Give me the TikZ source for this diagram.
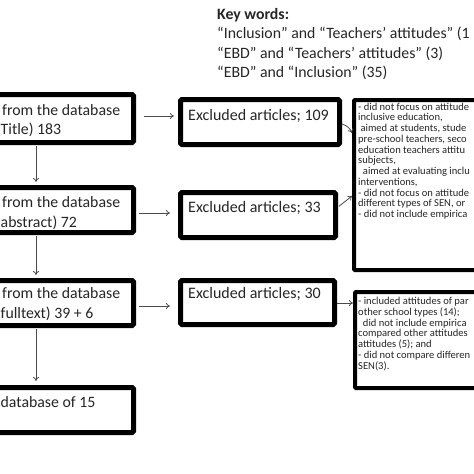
\documentclass[tikz,border=0pt]{standalone}
\usepackage{fontspec}
\setmainfont{Carlito}
\usetikzlibrary{arrows.meta}
\begin{document}
\begin{tikzpicture}[x=1pt,y=-1pt,
  bigbox/.style={draw=black, line width=5pt, rounded corners=1.5pt, fill=white, inner sep=0pt},
  notebox/.style={draw=black, line width=4pt, rounded corners=1pt, fill=white, inner sep=0pt},
  arr/.style={draw=black!70, line width=0.8pt, -{To[length=4pt,width=6pt]}},
  bigtxt/.style={inner sep=0pt, font=\fontsize{15.8}{18}\selectfont, text=black!85},
  midtxt/.style={inner sep=0pt, font=\fontsize{16}{18}\selectfont, text=black!85},
  smalltxt/.style={inner sep=0pt, align=left, font=\fontsize{10.55}{10.75}\selectfont, text=black!85},
  keytxt/.style={inner sep=0pt, anchor=base west, font=\fontsize{15.8}{18}\selectfont, text=black!85}]
\useasboundingbox (0,0) rectangle (474,474);
\fill[white] (0,0) rectangle (474,474);
% left column boxes
\node[bigbox, anchor=north east, minimum width=160pt, minimum height=48pt] (b1) at (136,92) {};
\node[bigbox, anchor=north east, minimum width=160pt, minimum height=45pt] (b2) at (136,185) {};
\node[bigbox, anchor=north east, minimum width=160pt, minimum height=45pt] (b3) at (136,278) {};
\node[bigbox, anchor=north east, minimum width=160pt, minimum height=45pt] (b4) at (136,385) {};
% middle boxes
\node[bigbox, anchor=north west, minimum width=159pt, minimum height=45pt] (e1) at (178,97) {};
\node[bigbox, anchor=north west, minimum width=155pt, minimum height=45pt] (e2) at (178,190) {};
\node[bigbox, anchor=north west, minimum width=154pt, minimum height=44pt] (e3) at (178,278) {};
% right boxes
\node[notebox, anchor=north west, minimum width=200pt, minimum height=170pt] (r1) at (352,98) {};
\node[notebox, anchor=north west, minimum width=200pt, minimum height=96pt] (r2) at (353,290) {};
% texts left
\node[bigtxt, anchor=base west] (t1a) at (2,115) {from the database};
\node[bigtxt, anchor=base west] (t1b) at (0.5,134) {Title) 183};
\node[bigtxt, anchor=base west] (t2a) at (2,207) {from the database};
\node[bigtxt, anchor=base west] (t2b) at (0.5,227) {abstract) 72};
\node[bigtxt, anchor=base west] (t3a) at (2,298) {from the database};
\node[bigtxt, anchor=base west] (t3b) at (0.5,318) {fulltext) 39 + 6};
\node[bigtxt, anchor=base west] (t4a) at (0.5,407) {database of 15};
% texts middle
\node[midtxt, anchor=base west] (te1) at (188,120) {Excluded articles; 109};
\node[midtxt, anchor=base west] (te2) at (188,212) {Excluded articles; 33};
\node[midtxt, anchor=base west] (te3) at (188,298) {Excluded articles; 30};
% right texts
\node[smalltxt, anchor=north west] (tr1) at (358,102.5) {- did not focus on attitude\\
inclusive education,\\
\ aimed at students, stude\\
pre-school teachers, seco\\
education teachers attitu\\
subjects,\\
\ \ aimed at evaluating inclu\\
interventions,\\
- did not focus on attitude\\
different types of SEN, or\\
- did not include empirica};
\node[smalltxt, anchor=north west] (tr2) at (358,297) {- included attitudes of par\\
other school types (14);\\
\ \ did not include empirica\\
compared other attitudes\\
attitudes (5); and\\
- did not compare differen\\
SEN(3).};
% key words
\node[keytxt, font=\fontsize{15.8}{18}\selectfont\bfseries] (k0) at (217,19) {Key words:};
\node[keytxt] (k1) at (217,38) {“Inclusion” and “Teachers’ attitudes” (1};
\node[keytxt] (k2) at (217,58) {“EBD” and “Teachers’ attitudes” (3)};
\node[keytxt] (k3) at (217,77) {“EBD” and “Inclusion” (35)};
% arrows
\coordinate (cx) at (36,0);
\draw[arr, shorten <=1pt, shorten >=3pt] (b1.south -| cx) -- (b2.north -| cx);
\draw[arr, shorten <=1pt, shorten >=3pt] (b2.south -| cx) -- (b3.north -| cx);
\draw[arr, shorten <=1pt, shorten >=4pt] (b3.south -| cx) -- (b4.north -| cx);
\draw[arr, shorten <=8pt, shorten >=4pt] (b1.east |- 0,116) -- (e1.west |- 0,116);
\draw[arr, shorten <=3pt, shorten >=8pt] (b2.east |- 0,213) -- (e2.west |- 0,213);
\draw[arr, shorten <=3pt, shorten >=8pt] (b3.east |- 0,306) -- (e3.west |- 0,306);
\draw[arr] (e1.east |- 0,124) to[bend left=25] (r1.west |- 0,133);
\draw[arr, shorten <=1pt] (e2.east |- 0,207) -- (r1.west |- 0,196);
\draw[arr] (e3.east |- 0,303) -- (r2.west |- 0,303);
\end{tikzpicture}
\end{document}
